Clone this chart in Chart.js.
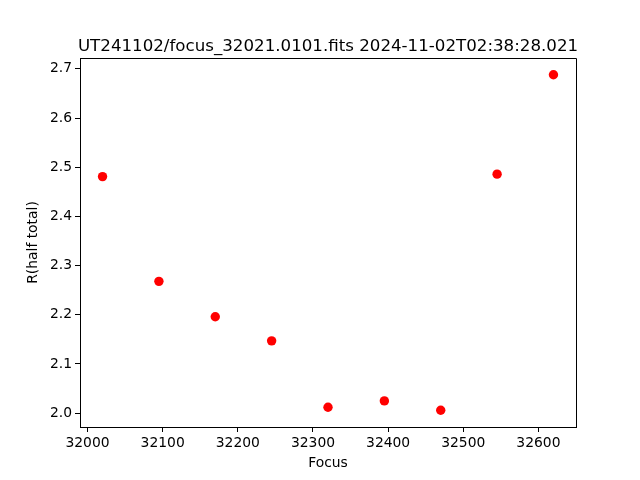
<!DOCTYPE html>
<html>
<head>
<meta charset="utf-8">
<script src="https://cdn.jsdelivr.net/npm/chart.js@4"></script>
<style>
html,body{margin:0;padding:0;background:#fff;}
#wrap{width:640px;height:480px;}
</style>
</head>
<body>
<div id="wrap"><canvas id="c" width="640" height="480"></canvas></div>
<script>
const focusValues = [32020, 32095, 32170, 32245, 32320, 32395, 32470, 32545, 32620];
const radiusValues = [2.481, 2.268, 2.196, 2.147, 2.012, 2.025, 2.006, 2.486, 2.688];
const xTicks = [32000, 32100, 32200, 32300, 32400, 32500, 32600];
const yTicks = [2.0, 2.1, 2.2, 2.3, 2.4, 2.5, 2.6, 2.7];
const titleText = 'UT241102/focus_32021.0101.fits 2024-11-02T02:38:28.021';

const FONT = "'DejaVu Sans', sans-serif";
const points = focusValues.map((f, i) => ({x: f, y: radiusValues[i]}));

const titlePlugin = {
  id: 'mplTitle',
  afterDraw(chart) {
    const ctx = chart.ctx, a = chart.chartArea;
    ctx.save();
    ctx.font = "16.67px " + FONT;
    ctx.fillStyle = '#000';
    ctx.textAlign = 'center';
    ctx.textBaseline = 'alphabetic';
    ctx.fillText(titleText, (a.left + a.right) / 2, a.top - 7);
    ctx.restore();
  }
};

new Chart(document.getElementById('c'), {
  type: 'scatter',
  data: {
    datasets: [{
      data: points,
      backgroundColor: '#ff0000',
      borderColor: '#ff0000',
      pointRadius: 4.7,
      pointHoverRadius: 4.7,
      borderWidth: 0
    }]
  },
  options: {
    responsive: false,
    animation: false,
    devicePixelRatio: 1,
    layout: {padding: {top: 58, right: 64, left: 0, bottom: 0}},
    plugins: {legend: {display: false}, tooltip: {enabled: false}, title: {display: false}},
    scales: {
      x: {
        type: 'linear',
        min: 31990,
        max: 32650,
        afterBuildTicks: s => { s.ticks = xTicks.map(v => ({value: v})); },
        afterFit: s => { s.height = 53; },
        border: {display: true, color: '#000', width: 1},
        grid: {drawOnChartArea: false, drawTicks: true, tickLength: 5, tickColor: '#000', tickWidth: 1},
        ticks: {color: '#000', font: {family: FONT, size: 13.89}, padding: 3, maxRotation: 0, autoSkip: false,
                callback: v => String(v)},
        title: {display: true, text: 'Focus', color: '#000', font: {family: FONT, size: 13.89}, padding: {top: 4, bottom: 8}}
      },
      y: {
        type: 'linear',
        min: 1.9719,
        max: 2.7221,
        afterBuildTicks: s => { s.ticks = yTicks.map(v => ({value: v})); },
        afterFit: s => { s.width = 80; },
        border: {display: true, color: '#000', width: 1},
        grid: {drawOnChartArea: false, drawTicks: true, tickLength: 5, tickColor: '#000', tickWidth: 1},
        ticks: {color: '#000', font: {family: FONT, size: 13.89}, padding: 3, autoSkip: false,
                callback: v => Number(v).toFixed(1)},
        title: {display: true, text: 'R(half total)', color: '#000', font: {family: FONT, size: 13.89}, padding: {top: 25, bottom: 0}}
      }
    }
  },
  plugins: [titlePlugin, {
    id: 'rightTopBorder',
    afterDraw(chart) {
      const ctx = chart.ctx, a = chart.chartArea;
      ctx.save();
      ctx.strokeStyle = '#000';
      ctx.lineWidth = 1;
      ctx.beginPath();
      ctx.moveTo(a.left, a.top + 0.5);
      ctx.lineTo(a.right + 0.5, a.top + 0.5);
      ctx.lineTo(a.right + 0.5, a.bottom);
      ctx.stroke();
      ctx.restore();
    }
  }]
});
</script>
</body>
</html>
